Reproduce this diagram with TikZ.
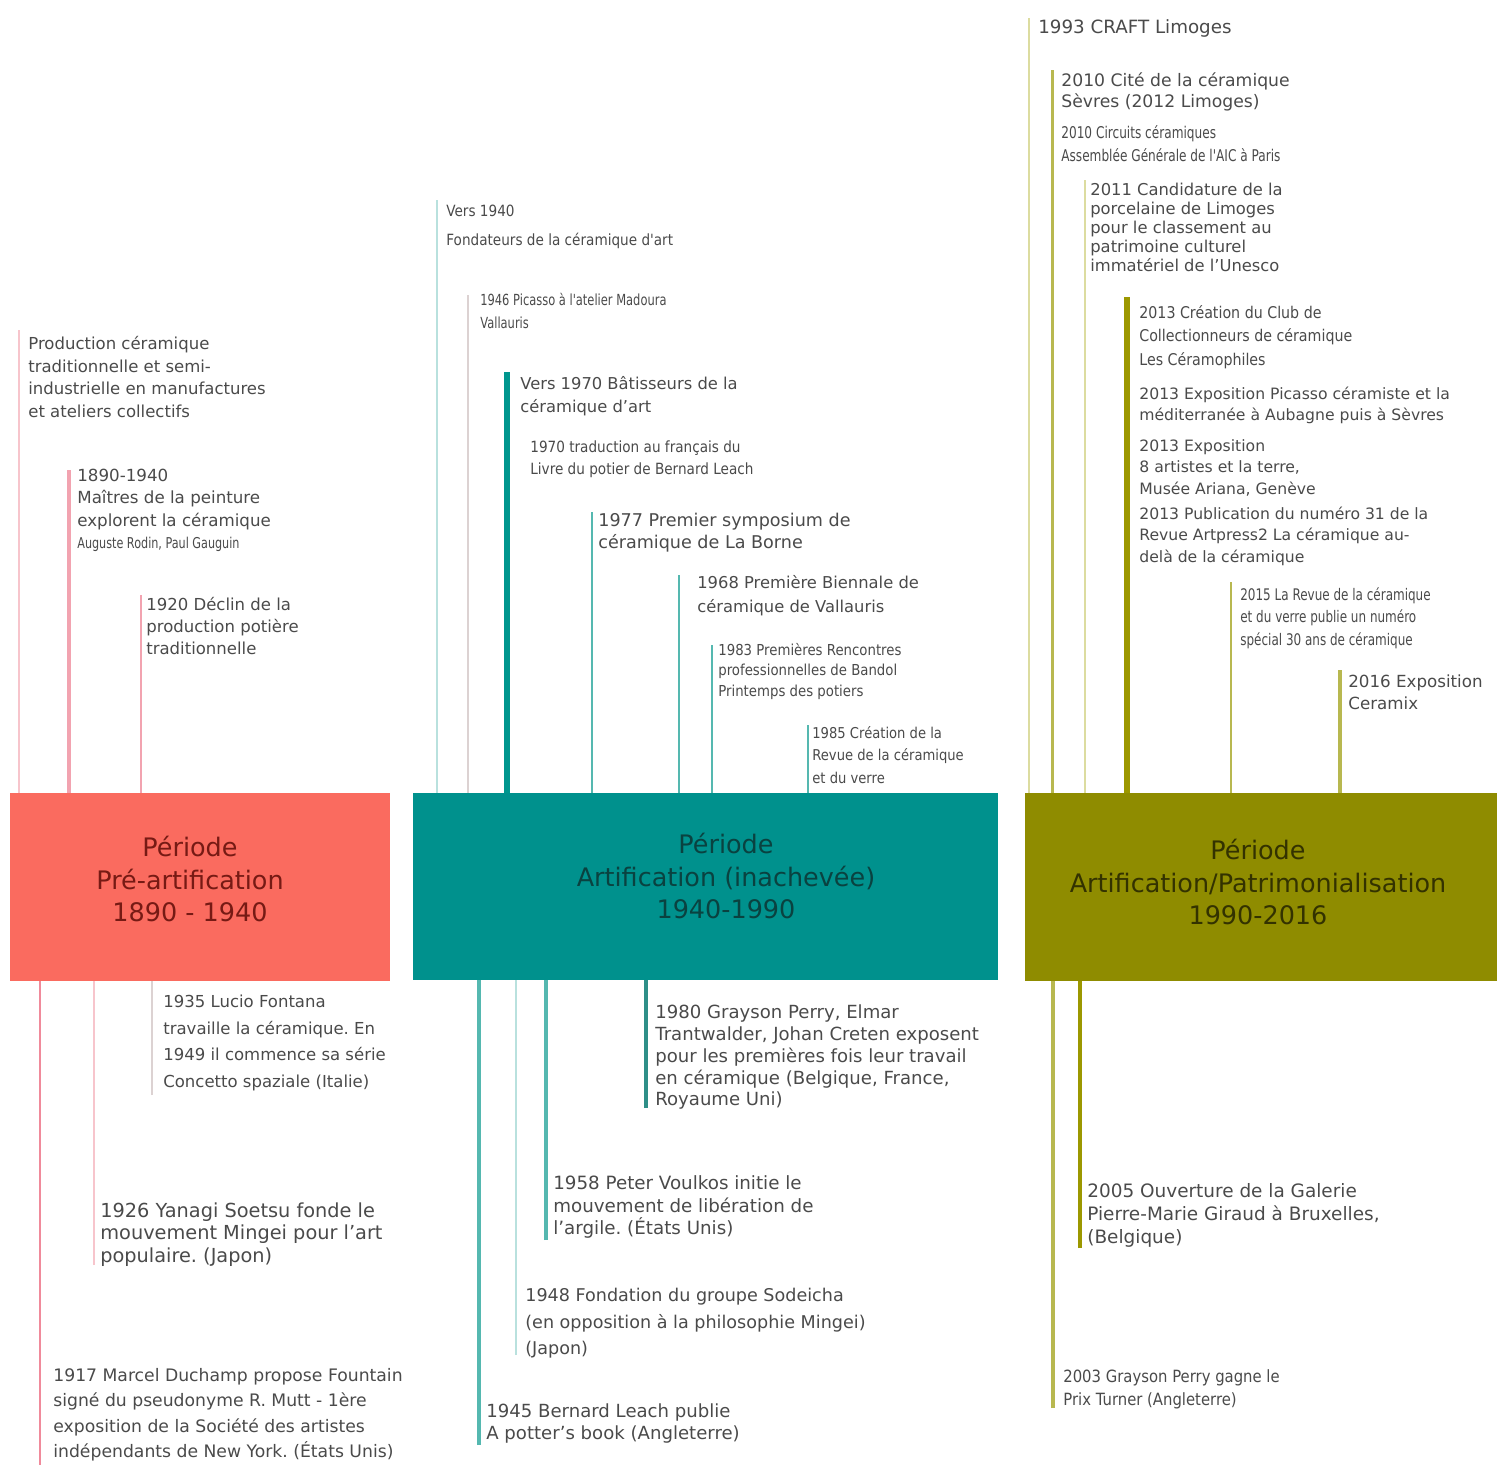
\documentclass[tikz,border=0pt]{standalone}
\usepackage{fontspec}
\setmainfont{DejaVu Sans}
\newfontfamily\condA[FakeStretch=0.75]{DejaVu Sans}
\newfontfamily\condB[FakeStretch=0.88]{DejaVu Sans}
\frenchspacing
\definecolor{coralbox}{HTML}{FA6B5F}
\definecolor{tealbox}{HTML}{00918D}
\definecolor{olivebox}{HTML}{8F8C00}
\definecolor{pretext}{HTML}{761A14}
\definecolor{arttext}{HTML}{0A4240}
\definecolor{pattext}{HTML}{333200}
\definecolor{evtext}{HTML}{4A4A4A}
\definecolor{pinkA}{HTML}{F7C5CC}
\definecolor{pinkB}{HTML}{F2A3B0}
\definecolor{pinkC}{HTML}{F08A9B}
\definecolor{grayA}{HTML}{DCD2D2}
\definecolor{tealA}{HTML}{B9E1DE}
\definecolor{tealB}{HTML}{55B8B0}
\definecolor{tealC}{HTML}{00968E}
\definecolor{tealD}{HTML}{2E8F88}
\definecolor{oliveA}{HTML}{DCDCA0}
\definecolor{oliveB}{HTML}{B8B850}
\definecolor{oliveC}{HTML}{9C9800}

\begin{document}
\begin{tikzpicture}[x=0.02cm, y=-0.02cm,
  event/.style={anchor=north west, align=left, inner sep=0pt, text=evtext},
  period/.style={rectangle, inner sep=0pt},
  ptitle/.style={align=center, font=\fontsize{14.5}{18.7}\selectfont}]
\useasboundingbox (0,0) rectangle (1509,1465);

\node[period, fill=coralbox, minimum width=7.6cm, minimum height=3.76cm] (pre) at (200,887) {};
\node[period, fill=tealbox, minimum width=11.7cm, minimum height=3.74cm] (art) at (705.5,886.5) {};
\node[period, fill=olivebox, minimum width=9.44cm, minimum height=3.76cm] (pat) at (1261,887) {};
\node[ptitle, text=pretext] (pre-t) at (190,879) {Période\\Pré-artification\\1890 - 1940};
\node[ptitle, text=arttext] (art-t) at (726,876) {Période\\Artification (inachevée)\\1940-1990};
\node[ptitle, text=pattext] (pat-t) at (1258,882) {Période\\Artification/Patrimonialisation\\1990-2016};

% pre-artification
\node[event, font=\fontsize{9.4}{12.9}\selectfont] (pre1) at (28,336) {Production céramique\\traditionnelle et semi-\\industrielle en manufactures\\et ateliers collectifs};
\node[event, font=\fontsize{9.5}{12.6}\selectfont] (pre2) at (77,469) {1890-1940\\Maîtres de la peinture\\explorent la céramique\\{\condA\fontsize{8.5}{12.6}\selectfont Auguste Rodin, Paul Gauguin}};
\node[event, font=\fontsize{9.4}{12.5}\selectfont] (pre3) at (146,597) {1920 Déclin de la\\production potière\\traditionnelle};
\node[event, font=\fontsize{9.4}{15.1}\selectfont] (pre4) at (163,995) {1935 Lucio Fontana\\travaille la céramique. En\\1949 il commence sa série\\Concetto spaziale (Italie)};
\node[event, font=\fontsize{11}{13}\selectfont] (pre5) at (100,1202) {1926 Yanagi Soetsu fonde le\\mouvement Mingei pour l'art\\populaire. (Japon)};
\node[event, font=\fontsize{9.8}{14.5}\selectfont] (pre6) at (53,1368) {1917 Marcel Duchamp propose Fountain\\signé du pseudonyme R. Mutt - 1ère\\exposition de la Société des artistes\\indépendants de New York. (États Unis)};

% artification
\node[event, font=\condB\fontsize{8.8}{16.4}\selectfont] (art1) at (446,205) {Vers 1940\\Fondateurs de la céramique d'art};
\node[event, font=\condA\fontsize{8.7}{13}\selectfont] (art2) at (480,293) {1946 Picasso à l'atelier Madoura\\Vallauris};
\node[event, font=\fontsize{9.3}{13}\selectfont] (art3) at (520,376) {Vers 1970 Bâtisseurs de la\\céramique d'art};
\node[event, font=\condB\fontsize{8.8}{12.5}\selectfont] (art3b) at (530,440) {1970 traduction au français du\\Livre du potier de Bernard Leach};
\node[event, font=\fontsize{10}{12.5}\selectfont] (art4) at (598,513) {1977 Premier symposium de\\céramique de La Borne};
\node[event, font=\fontsize{9.3}{13.6}\selectfont] (art5) at (697,575) {1968 Première Biennale de\\céramique de Vallauris};
\node[event, font=\condB\fontsize{8.6}{11.6}\selectfont] (art6) at (718,643) {1983 Premières Rencontres\\professionnelles de Bandol\\Printemps des potiers};
\node[event, font=\condB\fontsize{8.5}{12.8}\selectfont] (art7) at (812,726) {1985 Création de la\\Revue de la céramique\\et du verre};
\node[event, font=\fontsize{10.3}{12.5}\selectfont] (art8) at (655,1004) {1980 Grayson Perry, Elmar\\Trantwalder, Johan Creten exposent\\pour les premières fois leur travail\\en céramique (Belgique, France,\\Royaume Uni)};
\node[event, font=\fontsize{10.4}{13}\selectfont] (art9) at (553,1175) {1958 Peter Voulkos initie le\\mouvement de libération de\\l'argile. (États Unis)};
\node[event, font=\fontsize{10}{15}\selectfont] (art10) at (525,1288) {1948 Fondation du groupe Sodeicha\\(en opposition à la philosophie Mingei)\\(Japon)};
\node[event, font=\fontsize{10.3}{13}\selectfont] (art11) at (486,1403) {1945 Bernard Leach publie\\A potter's book (Angleterre)};

% patrimonialisation
\node[event, font=\fontsize{10.4}{12}\selectfont] (pat1) at (1038,19) {1993 CRAFT Limoges};
\node[event, font=\fontsize{9.8}{12}\selectfont] (pat2) at (1061,72) {2010 Cité de la céramique\\Sèvres (2012 Limoges)};
\node[event, font=\condA\fontsize{9.2}{13}\selectfont] (pat2b) at (1061,125) {2010 Circuits céramiques\\Assemblée Générale de l'AIC à Paris};
\node[event, font=\fontsize{9.3}{10.8}\selectfont] (pat3) at (1090,183) {2011 Candidature de la\\porcelaine de Limoges\\pour le classement au\\patrimoine culturel\\immatériel de l'Unesco};
\node[event, font=\condB\fontsize{9.2}{13.3}\selectfont] (pat4) at (1139,305) {2013 Création du Club de\\Collectionneurs de céramique\\Les Céramophiles};
\node[event, font=\fontsize{8.9}{11.9}\selectfont] (pat4b) at (1139,387) {2013 Exposition Picasso céramiste et la\\méditerranée à Aubagne puis à Sèvres};
\node[event, font=\fontsize{8.9}{12.2}\selectfont] (pat4c) at (1139,439) {2013 Exposition\\8 artistes et la terre,\\Musée Ariana, Genève};
\node[event, font=\fontsize{8.9}{12}\selectfont] (pat4d) at (1139,507) {2013 Publication du numéro 31 de la\\Revue Artpress2 La céramique au-\\delà de la céramique};
\node[event, font=\condA\fontsize{9.1}{13}\selectfont] (pat5) at (1240,587) {2015 La Revue de la céramique\\et du verre publie un numéro\\spécial 30 ans de céramique};
\node[event, font=\fontsize{9.5}{13}\selectfont] (pat6) at (1348,674) {2016 Exposition\\Ceramix};
\node[event, font=\fontsize{10.5}{13}\selectfont] (pat7) at (1087,1183) {2005 Ouverture de la Galerie\\Pierre-Marie Giraud à Bruxelles,\\(Belgique)};
\node[event, font=\condB\fontsize{9.6}{13}\selectfont] (pat8) at (1063,1369) {2003 Grayson Perry gagne le\\Prix Turner (Angleterre)};

% stems above the periods
\foreach \x/\y/\w/\c [count=\i] in {19/330/1.1/pinkA, 69/470/2.2/pinkB, 141/595/1.7/pinkB}
  {\coordinate (ua\i) at (\x,\y); \draw[line width=\w pt, \c] (ua\i) -- (ua\i |- pre.north);}
\foreach \x/\y/\w/\c [count=\i] in {437/200/1.1/tealA, 468/295/1.1/grayA, 507/372/3.4/tealC, 592/512/1.7/tealB, 679/575/1.7/tealB, 712/645/1.7/tealB, 808/725/1.7/tealB}
  {\coordinate (ub\i) at (\x,\y); \draw[line width=\w pt, \c] (ub\i) -- (ub\i |- art.north);}
\foreach \x/\y/\w/\c [count=\i] in {1029/18/1.1/oliveA, 1052/70/1.7/oliveB, 1085/180/1.1/oliveA, 1127/297/3.4/oliveC, 1231/582/1.1/oliveB, 1340/670/2.2/oliveB}
  {\coordinate (uc\i) at (\x,\y); \draw[line width=\w pt, \c] (uc\i) -- (uc\i |- pat.north);}

% stems below the periods
\foreach \x/\y/\w/\c [count=\i] in {40/1465/1.7/pinkC, 94/1265/1.1/pinkA, 152/1095/0.85/grayA}
  {\coordinate (da\i) at (\x,\y); \draw[line width=\w pt, \c] (da\i) -- (da\i |- pre.south);}
\foreach \x/\y/\w/\c [count=\i] in {479/1445/2.2/tealB, 516/1355/1.1/tealA, 546/1240/2.8/tealB, 646/1108/2.2/tealD}
  {\coordinate (db\i) at (\x,\y); \draw[line width=\w pt, \c] (db\i) -- (db\i |- art.south);}
\foreach \x/\y/\w/\c [count=\i] in {1053/1408/2.2/oliveB, 1080/1248/2.2/oliveC}
  {\coordinate (dc\i) at (\x,\y); \draw[line width=\w pt, \c] (dc\i) -- (dc\i |- pat.south);}
\end{tikzpicture}
\end{document}
